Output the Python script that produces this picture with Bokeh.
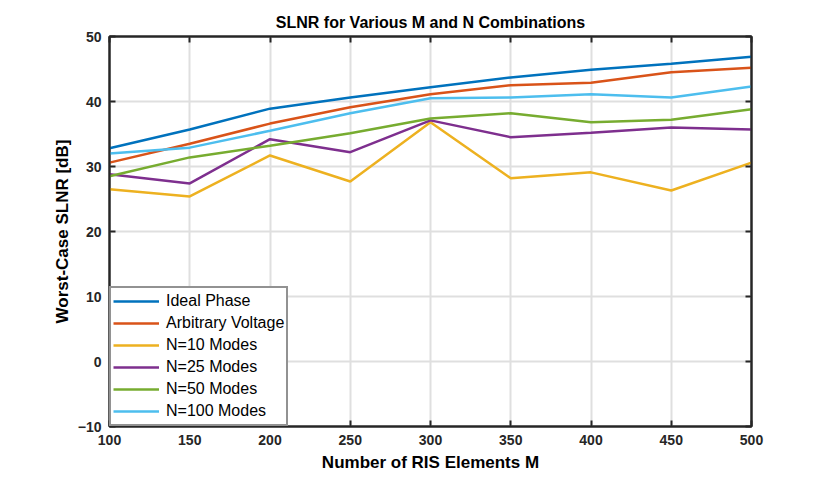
from bokeh.plotting import figure
from bokeh.models import Range1d, LinearAxis, FixedTicker, Legend, LegendItem, Title, CustomJSTickFormatter
from bokeh.embed import file_html
from bokeh.resources import INLINE

M = [100, 150, 200, 250, 300, 350, 400, 450, 500]
ideal_phase = [32.8, 35.7, 38.9, 40.6, 42.2, 43.7, 44.9, 45.8, 46.9]
arb_voltage = [30.6, 33.5, 36.6, 39.1, 41.1, 42.5, 42.9, 44.5, 45.2]
n10 = [26.5, 25.4, 31.7, 27.7, 36.8, 28.2, 29.1, 26.3, 30.6]
n25 = [28.8, 27.4, 34.2, 32.2, 37.1, 34.5, 35.2, 36.0, 35.7]
n50 = [28.5, 31.4, 33.2, 35.1, 37.4, 38.2, 36.8, 37.2, 38.8]
n100 = [32.0, 32.9, 35.5, 38.2, 40.5, 40.6, 41.1, 40.6, 42.3]

series = [
    ("Ideal Phase", ideal_phase, "#0072BD"),
    ("Arbitrary Voltage", arb_voltage, "#D95319"),
    ("N=10 Modes", n10, "#EDB120"),
    ("N=25 Modes", n25, "#7E2F8E"),
    ("N=50 Modes", n50, "#77AC30"),
    ("N=100 Modes", n100, "#4DBEEE"),
]
x_ticks = [100, 150, 200, 250, 300, 350, 400, 450, 500]
y_ticks = [-10, 0, 10, 20, 30, 40, 50]

FONT = "Liberation Sans"
AX = "#262626"

p = figure(width=830, height=480, output_backend="svg", toolbar_location=None,
           x_range=Range1d(100, 500), y_range=Range1d(-10, 50),
           min_border_left=109, min_border_right=79, min_border_top=36, min_border_bottom=54)
p.title = Title(text="SLNR for Various M and N Combinations", align="center",
                text_font=FONT, text_font_size="16px", text_font_style="bold", text_color="#000000",
                offset=0, standoff=11)

p.outline_line_color = AX
p.outline_line_width = 2
p.background_fill_color = "white"
p.border_fill_color = "white"

for ax in [p.xaxis[0], p.yaxis[0]]:
    ax.major_tick_in = 6
    ax.major_tick_out = 0
    ax.minor_tick_in = 0
    ax.minor_tick_out = 0
    ax.axis_line_color = AX
    ax.axis_line_width = 2
    ax.major_tick_line_color = AX
    ax.major_tick_line_width = 2
    ax.major_label_text_font = FONT
    ax.major_label_text_font_size = "14px"
    ax.major_label_text_font_style = "bold"
    ax.major_label_text_color = AX
    ax.axis_label_text_font = FONT
    ax.axis_label_text_font_size = "17px"
    ax.axis_label_text_font_style = "bold"
    ax.axis_label_text_color = "#000000"

p.xaxis[0].ticker = FixedTicker(ticks=x_ticks)
p.yaxis[0].ticker = FixedTicker(ticks=y_ticks)
p.xaxis[0].axis_label = "Number of RIS Elements M"
p.yaxis[0].axis_label = "Worst-Case SLNR [dB]"
p.xaxis[0].major_label_standoff = 8
p.yaxis[0].major_label_standoff = 8
p.xaxis[0].axis_label_standoff = 5
p.yaxis[0].axis_label_standoff = 3

blank = CustomJSTickFormatter(code="return ''")
top = LinearAxis(ticker=FixedTicker(ticks=x_ticks), formatter=blank,
                 major_tick_in=6, major_tick_out=0, minor_tick_in=0, minor_tick_out=0,
                 axis_line_color=AX, axis_line_width=2, major_tick_line_color=AX, major_tick_line_width=2)
right = LinearAxis(ticker=FixedTicker(ticks=y_ticks), formatter=blank,
                   major_tick_in=6, major_tick_out=0, minor_tick_in=0, minor_tick_out=0,
                   axis_line_color=AX, axis_line_width=2, major_tick_line_color=AX, major_tick_line_width=2)
p.add_layout(top, "above")
p.add_layout(right, "right")

p.xgrid.ticker = FixedTicker(ticks=x_ticks)
p.ygrid.ticker = FixedTicker(ticks=y_ticks)
p.xgrid.grid_line_color = "#dfdfdf"
p.ygrid.grid_line_color = "#dfdfdf"
p.xgrid.grid_line_width = 2
p.ygrid.grid_line_width = 2

items = []
for name, vals, col in series:
    r = p.line(M, vals, line_color=col, line_width=2.5)
    items.append(LegendItem(label=name, renderers=[r]))

legend = Legend(items=items, location="bottom_left", margin=0, padding=2, spacing=0,
                label_text_font=FONT, label_text_font_size="16px", label_text_color="#000000",
                label_height=22, glyph_height=22, glyph_width=46, label_standoff=7,
                border_line_color=AX, border_line_width=2, background_fill_alpha=1)
p.add_layout(legend, "center")

open("out.html", "w").write(file_html(p, INLINE))
